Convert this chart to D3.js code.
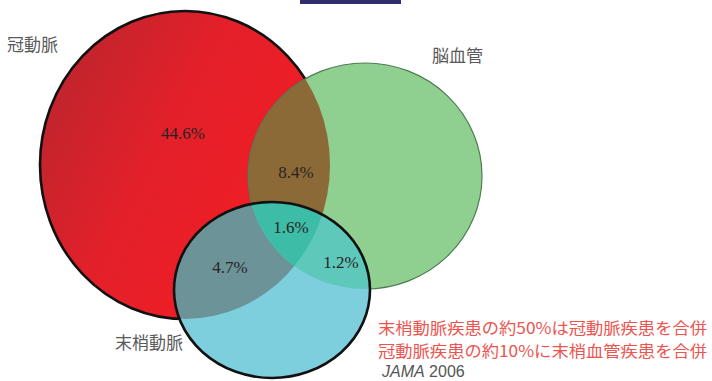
<!DOCTYPE html>
<html>
<head>
<meta charset="utf-8">
<script src="https://cdn.jsdelivr.net/npm/d3@7/dist/d3.min.js"></script>
<style>
  html, body { margin: 0; padding: 0; background: #fff; }
  svg { display: block; }
</style>
</head>
<body>
<svg id="venn" width="712" height="381"></svg>
<script>
// Disease groups and the share of patients in each overlap region
const setNames = ["冠動脈", "脳血管", "末梢動脈"];
const regionSets = [["冠動脈"], ["冠動脈", "脳血管"], ["冠動脈", "脳血管", "末梢動脈"], ["冠動脈", "末梢動脈"], ["脳血管", "末梢動脈"]];
const regionValues = [44.6, 8.4, 1.6, 4.7, 1.2];
const noteLines = ["末梢動脈疾患の約50%は冠動脈疾患を合併", "冠動脈疾患の約10%に末梢血管疾患を合併"];
const sourceJournal = "JAMA";
const sourceYear = "2006";

const W = 712, H = 381;
const svg = d3.select("#venn");

// Layout of the three sets (ellipses) and label anchors
const shapes = {
  "冠動脈": { cx: 185, cy: 165, rx: 145, ry: 154 },
  "脳血管": { cx: 365, cy: 176, rx: 117, ry: 113 },
  "末梢動脈": { cx: 272, cy: 290, rx: 98, ry: 88 }
};
const setLabelPos = {
  "冠動脈": { x: 7, y: 51 },
  "脳血管": { x: 432, y: 62 },
  "末梢動脈": { x: 115, y: 349 }
};
const regionLabelPos = [
  { x: 183, y: 139 },
  { x: 296, y: 178 },
  { x: 291, y: 233 },
  { x: 230, y: 273 },
  { x: 341, y: 268 }
];

const defs = svg.append("defs");
const grad = defs.append("linearGradient").attr("id", "redFill")
  .attr("x1", 0).attr("y1", 0).attr("x2", 1).attr("y2", 0.55);
grad.append("stop").attr("offset", 0).attr("stop-color", "#b3262f");
grad.append("stop").attr("offset", 0.5).attr("stop-color", "#e3202a");
grad.append("stop").attr("offset", 1).attr("stop-color", "#f41c22");

const clipId = name => "clip-" + setNames.indexOf(name);
setNames.forEach(name => {
  const s = shapes[name];
  defs.append("clipPath").attr("id", clipId(name))
    .append("ellipse").attr("cx", s.cx).attr("cy", s.cy).attr("rx", s.rx).attr("ry", s.ry);
});

function ellipse(sel, name) {
  const s = shapes[name];
  return sel.append("ellipse").attr("cx", s.cx).attr("cy", s.cy).attr("rx", s.rx).attr("ry", s.ry);
}
// fill a set, clipped by the other sets it intersects
function region(fill, name, clipBy) {
  let g = svg.append("g");
  const outer = g;
  clipBy.forEach((c, i) => {
    g.attr("clip-path", `url(#${clipId(c)})`);
    if (i < clipBy.length - 1) g = g.append("g");
  });
  ellipse(g, name).attr("fill", fill);
  return outer;
}

// title bar fragment at the top edge
svg.append("rect").attr("x", 300).attr("y", -2).attr("width", 101).attr("height", 6).attr("fill", "#2f2d6c");

// coronary
ellipse(svg, "冠動脈").attr("fill", "url(#redFill)").attr("stroke", "#111").attr("stroke-width", 2.6);
// cerebrovascular
ellipse(svg, "脳血管").attr("fill", "#8fcf90");
region("#8b6a37", "脳血管", ["冠動脈"]);
ellipse(svg, "脳血管").attr("fill", "none").attr("stroke", "#4f7d52").attr("stroke-width", 1.2);
// peripheral
ellipse(svg, "末梢動脈").attr("fill", "#7ecfde");
region("#6c9498", "末梢動脈", ["冠動脈"]);
region("#5ec9bb", "末梢動脈", ["脳血管"]);
region("#3dbda7", "末梢動脈", ["冠動脈", "脳血管"]);
ellipse(svg, "末梢動脈").attr("fill", "none").attr("stroke", "#111").attr("stroke-width", 2.6);

// region percentages
svg.append("g").selectAll("text").data(regionValues).join("text")
  .attr("x", (d, i) => regionLabelPos[i].x)
  .attr("y", (d, i) => regionLabelPos[i].y)
  .attr("text-anchor", "middle")
  .attr("font-family", "'Liberation Serif', 'Times New Roman', serif")
  .attr("font-size", 17)
  .attr("fill", "#2a2323")
  .text(d => d.toFixed(1) + "%");

// set names
svg.append("g").selectAll("text").data(setNames).join("text")
  .attr("x", d => setLabelPos[d].x)
  .attr("y", d => setLabelPos[d].y)
  .attr("font-family", "'Noto Sans CJK JP', sans-serif")
  .attr("font-size", 17)
  .attr("fill", "#5a5a5a")
  .text(d => d);

// notes
svg.append("g").selectAll("text").data(noteLines).join("text")
  .attr("x", 378)
  .attr("y", (d, i) => 333.5 + i * 23)
  .attr("font-family", "'Noto Sans CJK JP', sans-serif")
  .attr("font-size", 15.8)
  .attr("fill", "#ec5450")
  .attr("textLength", 329)
  .attr("lengthAdjust", "spacingAndGlyphs")
  .text(d => d);

// source
const src = svg.append("text").attr("x", 382).attr("y", 377)
  .attr("font-family", "'Liberation Sans', Arial, sans-serif")
  .attr("font-size", 16).attr("fill", "#555");
src.append("tspan").attr("font-style", "italic").text(sourceJournal);
src.append("tspan").text(" " + sourceYear);
</script>
</body>
</html>
